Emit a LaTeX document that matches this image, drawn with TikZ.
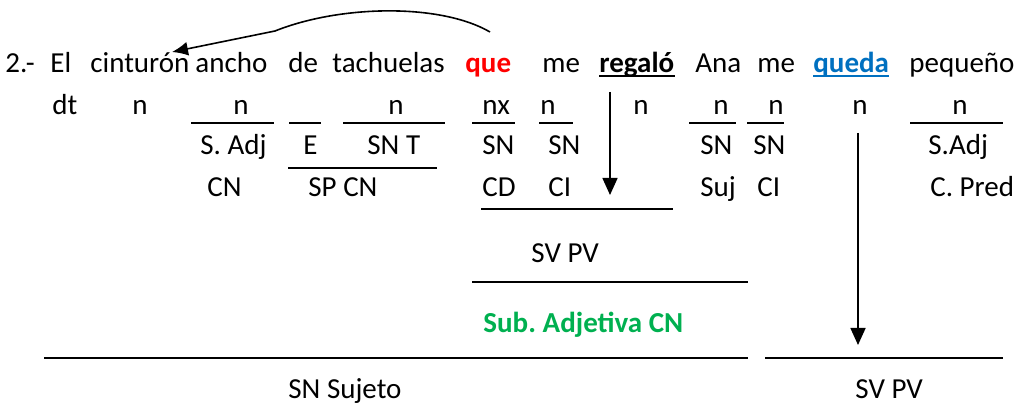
\documentclass[tikz,border=0pt]{standalone}
\usepackage{fontspec}
\setmainfont{Carlito}
\usepackage{tikz}
\usetikzlibrary{arrows.meta}
\definecolor{quered}{RGB}{255,0,0}
\definecolor{quedablue}{RGB}{0,112,192}
\definecolor{subgreen}{RGB}{0,176,80}
\tikzset{
  word/.style={anchor=base west,inner sep=0pt,font=\fontsize{14.5}{17}\selectfont},
  bar/.style={line width=0.8pt},
  down/.style={line width=0.8pt,-{Triangle[length=8.5pt,width=7.5pt]}}
}

\begin{document}
\begin{tikzpicture}[x=0.5pt,y=-0.5pt]
      \useasboundingbox (0,0) rectangle (1016,405);
      \node[word] (num) at (5,73) {2.-};
      \node[word] (el) at (50,73) {El};
      \node[word] (cinturon) at (90,73) {cinturón};
      \node[word] (ancho) at (195,73) {ancho};
      \node[word] (de) at (288,73) {de};
      \node[word] (tachuelas) at (332,73) {tachuelas};
      \node[word,text=quered,font=\fontsize{14.5}{17}\selectfont\bfseries] (que) at (465,73) {que};
      \node[word] (me) at (542,73) {me};
      \node[word,font=\fontsize{14.5}{17}\selectfont\bfseries] (regalo) at (599,73) {regaló};
      \node[word] (ana) at (695,73) {Ana};
      \node[word] (mee) at (757,73) {me};
      \node[word,text=quedablue,font=\fontsize{14.5}{17}\selectfont\bfseries] (queda) at (813,73) {queda};
      \node[word] (pequeno) at (909,73) {pequeño};
      \draw[bar] ([yshift=-1.5pt]regalo.base west) -- ([yshift=-1.5pt]regalo.base east);
      \draw[bar,quedablue] ([yshift=-1.5pt]queda.base west) -- ([yshift=-1.5pt]queda.base east);

      \node[word] (dt) at (52,115) {dt};
      \node[word] (nel) at (132,115) {n};
      \node[word] (nancho) at (233,115) {n};
      \node[word] (ntach) at (388,115) {n};
      \node[word] (nx) at (482,115) {nx};
      \node[word] (nme) at (540,115) {n};
      \node[word] (nreg) at (633,115) {n};
      \node[word] (nana) at (713,115) {n};
      \node[word] (nmee) at (768,115) {n};
      \node[word] (nqueda) at (852,115) {n};
      \node[word] (npeq) at (952,115) {n};
      \draw[bar] (191,123) -- (274,123);
      \draw[bar] (289,123) -- (321,123);
      \draw[bar] (343,123) -- (445,123);
      \draw[bar] (472,123) -- (515,123);
      \draw[bar] (539,123) -- (573,123);
      \draw[bar] (689,123) -- (736,123);
      \draw[bar] (747,123) -- (784,123);
      \draw[bar] (910,123) -- (1003,123);

      \node[word] (sadj) at (200,155) {S. Adj};
      \node[word] (e) at (303,155) {E};
      \node[word] (snt) at (367,155) {SN T};
      \node[word] (snque) at (482,155) {SN};
      \node[word] (snme) at (548,155) {SN};
      \node[word] (snana) at (700,155) {SN};
      \node[word] (snmee) at (753,155) {SN};
      \node[word] (sadjp) at (928,155) {S.Adj};
      \draw[bar] (288,168) -- (437,168);

      \node[word] (cn) at (207,197) {CN};
      \node[word] (spcn) at (308,197) {SP CN};
      \node[word] (cd) at (482,197) {CD};
      \node[word] (ci) at (548,197) {CI};
      \node[word] (suj) at (700,197) {Suj};
      \node[word] (cii) at (757,197) {CI};
      \node[word] (cpred) at (930,197) {C. Pred};
      \draw[bar] (481,209) -- (673,209);

      \node[word] (svsub) at (531,263) {SV PV};
      \draw[bar] (472,282) -- (748,282);
      \node[word,text=subgreen,font=\fontsize{14.5}{17}\selectfont\bfseries] (subadj) at (483,333) {Sub.\hspace{-1pt} Adjetiva CN};
      \draw[bar] (44,358) -- (748,358);
      \draw[bar] (765,358) -- (1003,358);
      \node[word] (snsuj) at (288,398) {SN Sujeto};
      \node[word] (svpv) at (855,398) {SV PV};

      \coordinate (regtop) at (610,92);
      \coordinate (regend) at (610,195);
      \coordinate (quedatop) at (858,133);
      \coordinate (quedaend) at (858,345);
      \coordinate (quefrom) at (490,32);
      \coordinate (bend) at (275,31);
      \coordinate (cinto) at (172,52);
      \draw[down] (regtop) -- (regend);
      \draw[down] (quedatop) -- (quedaend);
      \draw[line width=0.8pt,-{Latex[length=8pt,width=7pt]}] (quefrom) .. controls (440,3) and (340,5) .. (bend) -- (cinto);
\end{tikzpicture}
\end{document}
